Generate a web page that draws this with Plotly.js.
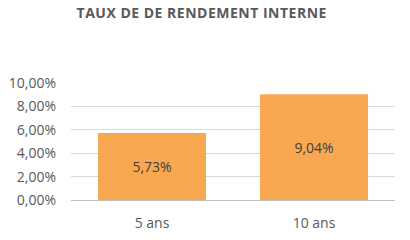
<!DOCTYPE html>
<html><head><meta charset="utf-8">
<script src="https://cdn.plot.ly/plotly-3.0.1.min.js"></script>
<style>html,body{margin:0;padding:0;background:#fff}#chart{width:410px;height:240px}
.gtitle{letter-spacing:0.5px}</style>
</head><body><div id="chart"></div>
<script>
var categories = ["5 ans", "10 ans"];
var values = [0.0573, 0.0904];
var tickValues = [0, 0.02, 0.04, 0.06, 0.08, 0.10];

var trace = {
  type: "bar",
  x: categories,
  y: values,
  marker: {color: "#F9A852"},
  texttemplate: "%{y:.2%}",
  textposition: "inside",
  insidetextanchor: "middle",
  textfont: {family: "Open Sans, sans-serif", size: 14, color: "#404040"},
  hoverinfo: "none"
};

var layout = {
  width: 410, height: 240,
  margin: {l: 71, r: 15, t: 83, b: 40},
  separators: ", ",
  paper_bgcolor: "#ffffff",
  plot_bgcolor: "#ffffff",
  bargap: 0.333,
  showlegend: false,
  title: {
    text: "<b>TAUX DE DE RENDEMENT INTERNE</b>",
    font: {family: "Open Sans, sans-serif", size: 14, color: "#595959"},
    x: 0.492, xanchor: "center",
    y: 1 - 13/240, yanchor: "middle", yref: "container"
  },
  xaxis: {
    showgrid: false,
    showline: true, linecolor: "#BFBFBF", linewidth: 1,
    ticks: "",
    ticklabelstandoff: 10,
    tickfont: {family: "Open Sans, sans-serif", size: 14, color: "#595959"}
  },
  yaxis: {
    range: [0, 0.10],
    tickvals: tickValues,
    tickformat: ".2%",
    showgrid: true, gridcolor: "#D9D9D9", gridwidth: 1,
    zeroline: false, showline: false, ticks: "",
    ticklabelstandoff: 14,
    tickfont: {family: "Open Sans, sans-serif", size: 14, color: "#595959"}
  }
};

Plotly.newPlot("chart", [trace], layout, {staticPlot: true, displayModeBar: false});
</script></body></html>
